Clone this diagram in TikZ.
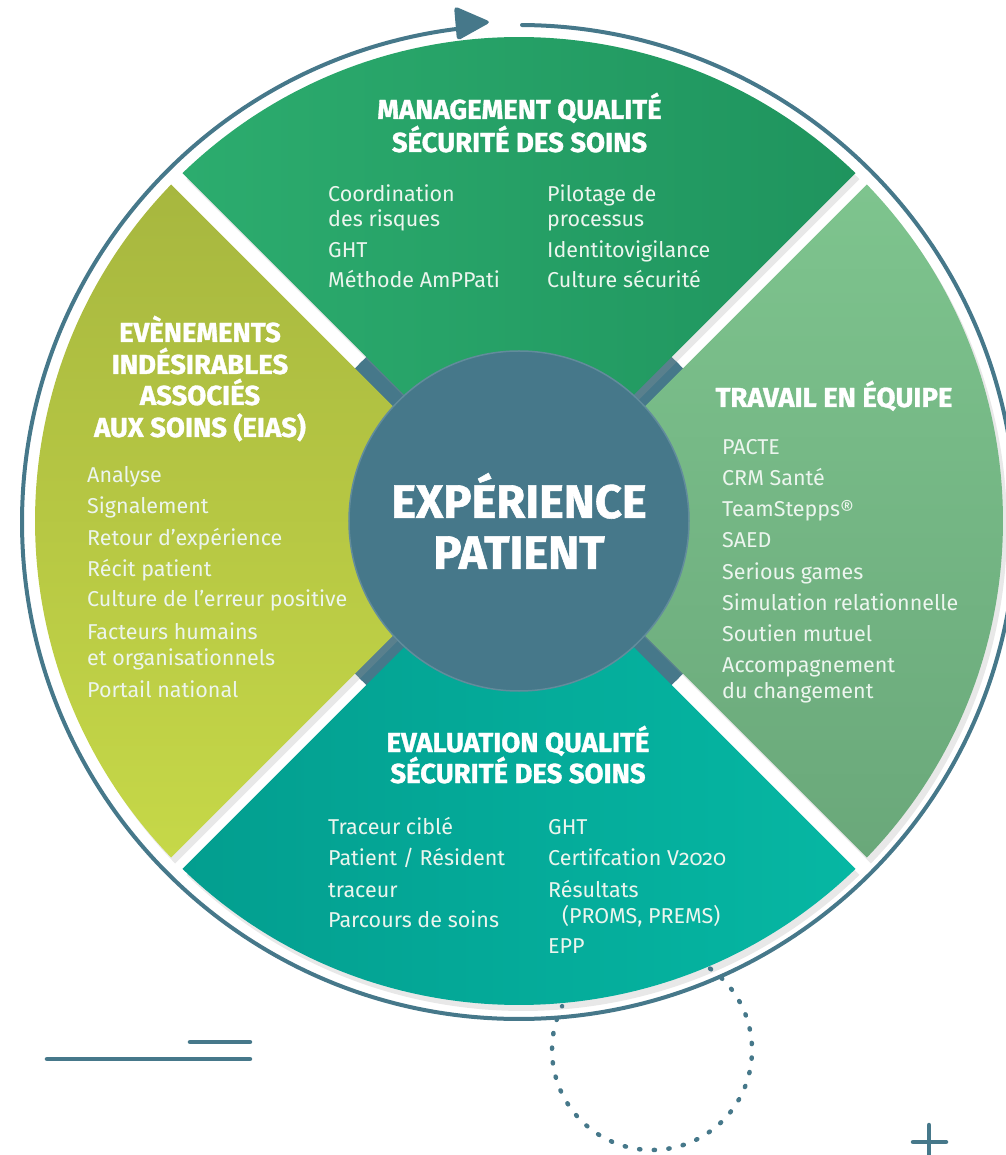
\documentclass[tikz,border=0pt]{standalone}
\usepackage{fontspec}
\setmainfont{Fira Sans}
\newfontfamily\headfam{Fira Sans}[BoldFeatures={FakeBold=1.2}]
\newcommand{\headfont}{\headfam\bfseries}
\usepackage{tikz}
\usetikzlibrary{arrows.meta,positioning,calc}
\definecolor{slate}{RGB}{70,120,138}
\definecolor{shade}{RGB}{155,156,155}
\definecolor{mqssL}{RGB}{44,172,110}
\definecolor{mqssR}{RGB}{31,148,94}
\definecolor{teamT}{RGB}{126,196,142}
\definecolor{teamB}{RGB}{106,168,122}
\definecolor{evalL}{RGB}{3,158,143}
\definecolor{evalR}{RGB}{6,183,163}
\definecolor{eiasT}{RGB}{167,183,63}
\definecolor{eiasB}{RGB}{198,216,72}
\definecolor{itemtext}{RGB}{236,245,238}
\tikzstyle{heading}=[text=white,font=\fontsize{27.5}{32}\selectfont\headfont,inner sep=0pt,anchor=base]
\tikzstyle{item}=[text=itemtext,font=\fontsize{21.5}{27}\selectfont,inner sep=0pt,anchor=base west]
\tikzstyle{deco}=[slate,line width=4.5pt,line cap=round]
\newcommand{\quarter}[2]{\path[#2] (#1:11.3) -- (#1-44.05:484) arc[start angle=#1-44.05,end angle=#1+44.05,radius=484] -- cycle;}

\begin{document}
\begin{tikzpicture}[x=1pt,y=1pt]
  \useasboundingbox (-519,-634) rectangle (486,521);

  % hub seen through the gaps
  \fill[slate] (0,0) circle[radius=224];
  \foreach \a in {90,0,270,180}
    {\quarter{\a}{fill=shade,opacity=.23,xshift=4pt,yshift=-6pt}}

  % the four quarters
  \quarter{90}{left color=mqssL,right color=mqssR}
  \quarter{0}{top color=teamT,bottom color=teamB}
  \quarter{270}{left color=evalL,right color=evalR}
  \quarter{180}{top color=eiasT,bottom color=eiasB}

  \node[circle,fill=slate,draw=slate!85!white,line width=1.5pt,minimum size=340pt,inner sep=0pt,
        text=white,align=center,font=\fontsize{47}{51}\selectfont\headfont] (hub) at (0,0) {EXPÉRIENCE\\PATIENT};

  % dotted loop, then the ring with its arrow
  \draw[slate,line width=4.5pt,line cap=round,dash pattern=on 1.2pt off 13.46pt]
    ([shift={(133,-529)}]54.5:100) arc[start angle=54.5,end angle=-206,radius=100];
  \draw[slate,line width=4pt,line cap=round]
    ([shift={(0,-1)}]89.65:497) coordinate (ringstart)
    arc[start angle=89.65,end angle=-262.8,radius=497] coordinate (ringend);
  \fill[slate,rounded corners=4pt] (-65,515) -- (-28,499) -- (-62,480) -- cycle;

  \draw[deco] (-329,-521) -- (-269,-521);
  \draw[deco] (-472,-538) -- (-269,-538);
  \draw[deco] (410,-604) -- (410,-640);
  \draw[deco] (394,-621) -- (427,-621);

  % management
  \node[heading] (mqss1) at (0.5,402) {MANAGEMENT QUALITÉ};
  \node[heading] (mqss2) at (0.5,369) {SÉCURITÉ DES SOINS};
  \foreach \y/\t [count=\i] in {319/Coordination,294/des risques,263/GHT,233/Méthode AmPPati}
    \node[item] (mqssA\i) at (-191,\y) {\t};
  \foreach \y/\t [count=\i] in {319/Pilotage de,294/processus,263/Identitovigilance,233/Culture sécurité}
    \node[item] (mqssB\i) at (28,\y) {\t};

  % eias
  \foreach \y/\t [count=\i] in {179/EVÈNEMENTS,147/INDÉSIRABLES,116/ASSOCIÉS,84/AUX SOINS (EIAS)}
    \node[heading] (eias\i) at (-319,\y) {\t};
  \foreach \y/\t [count=\i] in {38/Analyse,7/Signalement,-25/Retour d’expérience,-56/Récit patient,
      -86/Culture de l’erreur positive,-118/Facteurs humains,-144/et organisationnels,-176/Portail national}
    \node[item] (eiasA\i) at (-432,\y) {\t};

  % travail en equipe
  \node[heading] (team) at (315,114) {TRAVAIL EN ÉQUIPE};
  \foreach \y/\t [count=\i] in {66/PACTE,35/CRM Santé,4/TeamStepps®,-27/SAED,-59/Serious games,
      -90/Simulation relationnelle,-121/Soutien mutuel,-151/Accompagnement,-177/du changement}
    \node[item] (teamA\i) at (203,\y) {\t};

  % evaluation
  \node[heading] (eval1) at (-1,-231) {EVALUATION QUALITÉ};
  \node[heading] (eval2) at (-1,-262) {SÉCURITÉ DES SOINS};
  \foreach \y/\t [count=\i] in {-313/Traceur ciblé,-344/{Patient / Résident},-376/traceur,-406/Parcours de soins}
    \node[item] (evalA\i) at (-191,\y) {\t};
  \foreach \x/\y/\t [count=\i] in {29/-313/GHT,29/-344/{Certifcation V\addfontfeatures{Numbers=OldStyle}2020},
      29/-376/Résultats,43/-402/{(PROMS, PREMS)},29/-432/EPP}
    \node[item] (evalB\i) at (\x,\y) {\t};
\end{tikzpicture}
\end{document}
